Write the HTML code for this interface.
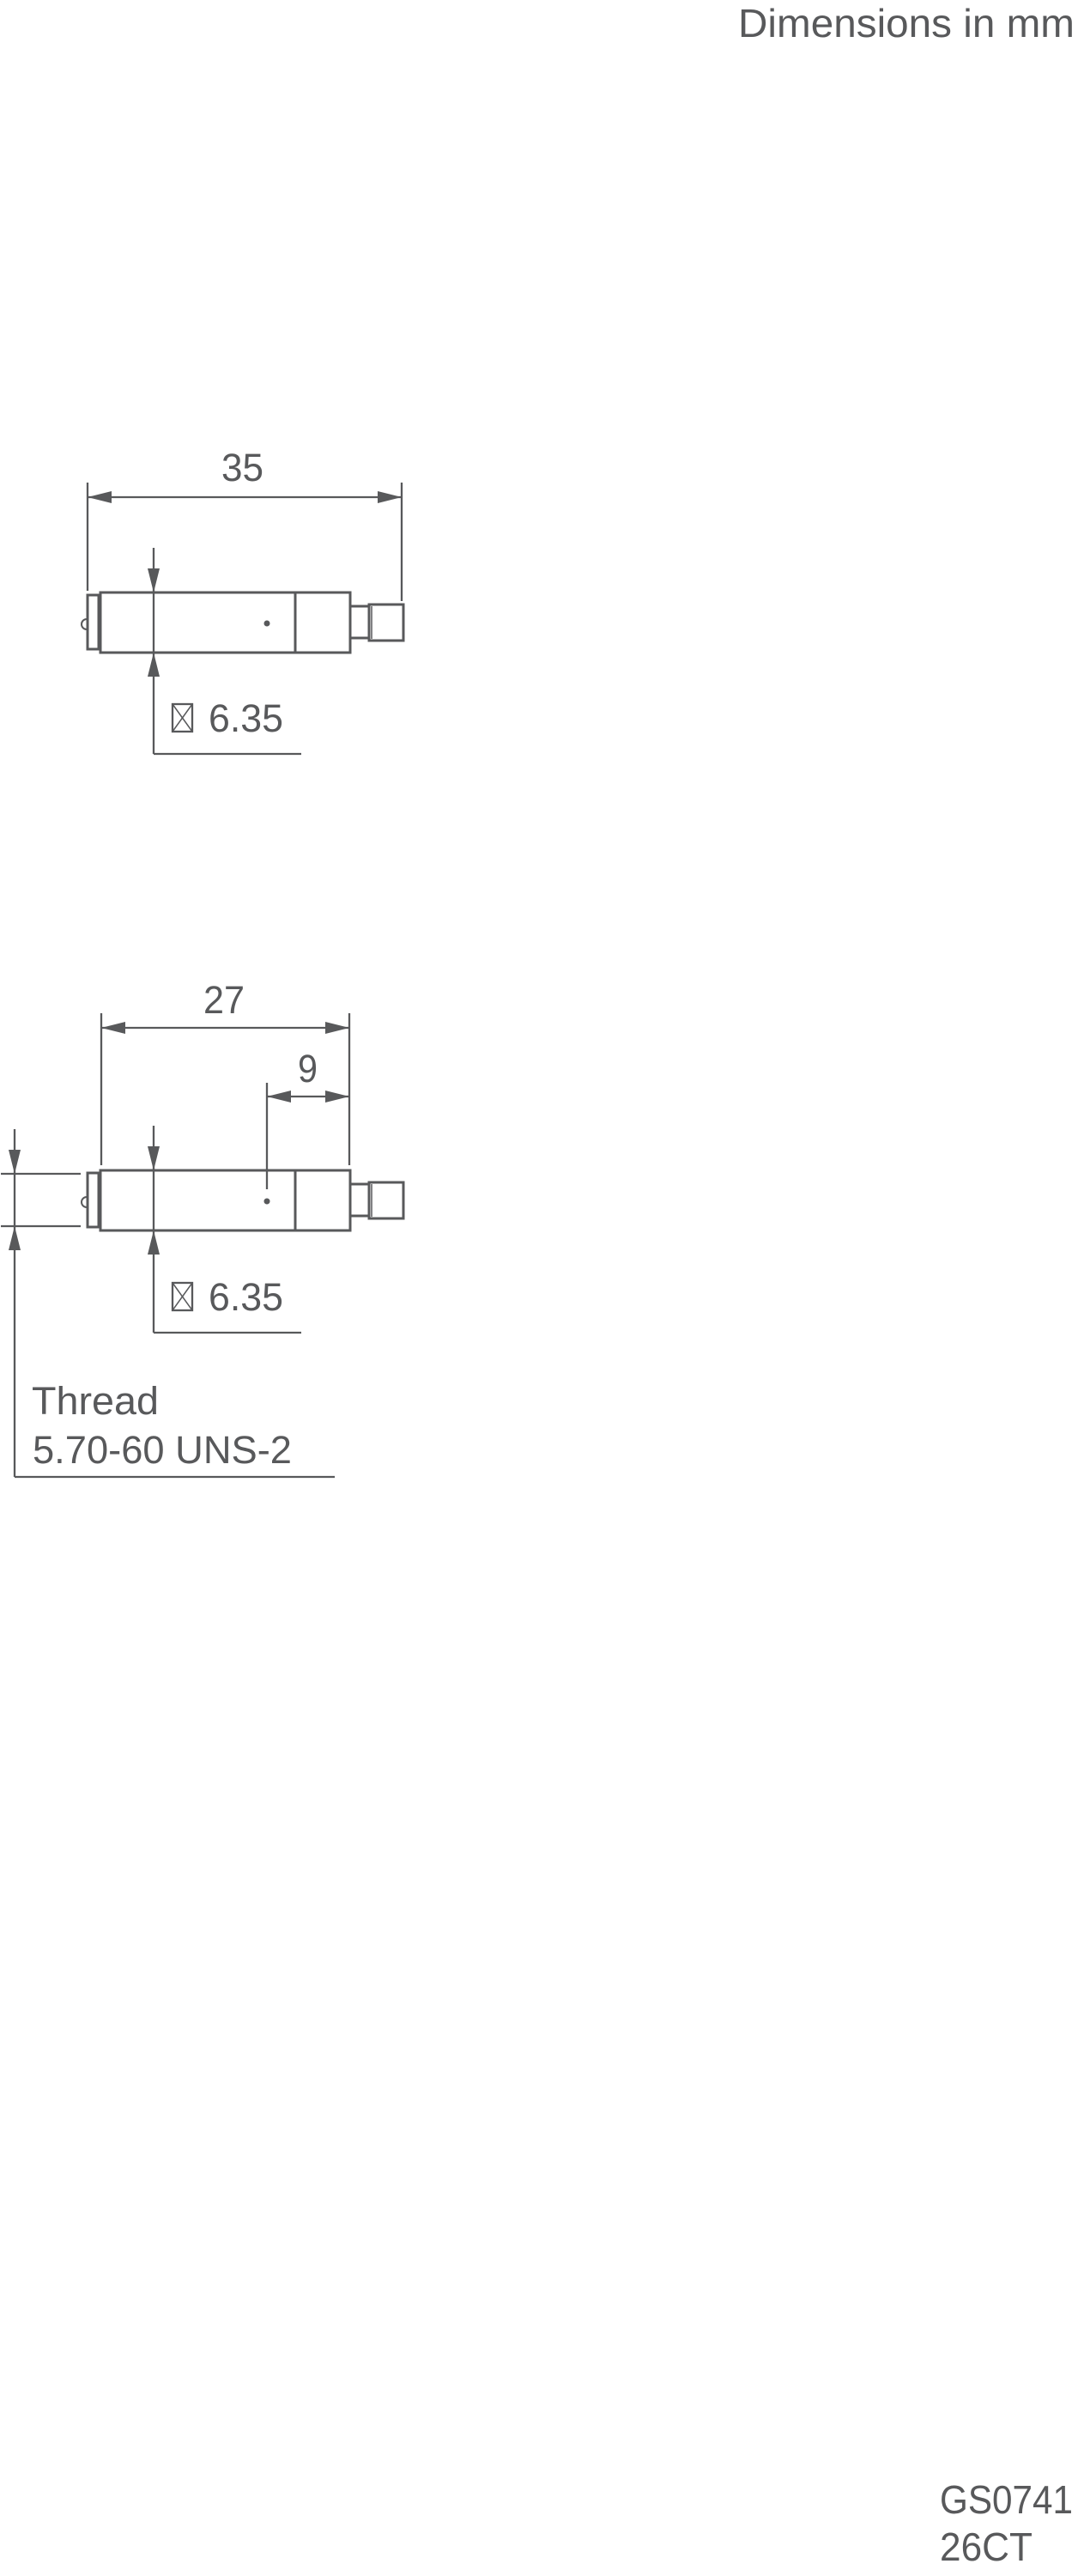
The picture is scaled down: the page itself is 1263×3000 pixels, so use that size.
<!DOCTYPE html>
<html><head><meta charset="utf-8"><style>
html,body{margin:0;padding:0;background:#fff;}
svg{display:block;}
text{font-family:"Liberation Sans",sans-serif;fill:#58595b;font-size:45px;}
</style></head><body>
<svg width="1263" height="3000" viewBox="0 0 1263 3000" xmlns="http://www.w3.org/2000/svg">
<defs>
<g id="part" stroke="#58595b" fill="none" stroke-width="3">
  <rect x="102" y="693" width="13" height="63"/>
  <line x1="114.5" y1="695" x2="114.5" y2="754" stroke-width="1.5"/>
  <path d="M101 721 A6 6 0 0 0 101 733" stroke-width="2"/>
  <rect x="117" y="690" width="291" height="70"/>
  <line x1="344" y1="690" x2="344" y2="760"/>
  <rect x="408" y="706" width="22" height="37"/>
  <rect x="430" y="704" width="40" height="42"/>
  <line x1="433" y1="706" x2="433" y2="744" stroke-width="1.5"/>
  <circle cx="311" cy="726" r="3.5" fill="#58595b" stroke="none"/>
</g>
</defs>

<text x="860" y="43" textLength="392" lengthAdjust="spacingAndGlyphs" style="font-size:46px">Dimensions in mm</text>

<!-- Drawing 1 -->
<use href="#part"/>
<g stroke="#58595b" stroke-width="2.3" fill="none">
  <line x1="102" y1="562" x2="102" y2="688"/>
  <line x1="468" y1="562" x2="468" y2="700"/>
  <line x1="102" y1="579" x2="468" y2="579"/>
  <line x1="179" y1="638" x2="179" y2="878"/>
  <line x1="179" y1="878" x2="351" y2="878"/>
  <rect x="201" y="820" width="23" height="32"/>
  <line x1="201" y1="820" x2="224" y2="852" stroke-width="1.5"/>
  <line x1="224" y1="820" x2="201" y2="852" stroke-width="1.5"/>
</g>
<g fill="#58595b">
  <polygon points="102,579 130,572 130,586"/>
  <polygon points="468,579 440,572 440,586"/>
  <polygon points="179,690 172,662 186,662"/>
  <polygon points="179,760 172,788 186,788"/>
</g>
<text x="258" y="560" textLength="49" lengthAdjust="spacingAndGlyphs">35</text>
<text x="243" y="852" textLength="87" lengthAdjust="spacingAndGlyphs">6.35</text>

<!-- Drawing 2 -->
<use href="#part" transform="translate(0,673)"/>
<g stroke="#58595b" stroke-width="2.3" fill="none">
  <line x1="118" y1="1180" x2="118" y2="1357"/>
  <line x1="407" y1="1180" x2="407" y2="1357"/>
  <line x1="118" y1="1197" x2="407" y2="1197"/>
  <line x1="311" y1="1261" x2="311" y2="1385"/>
  <line x1="311" y1="1277" x2="407" y2="1277"/>
  <line x1="179" y1="1311" x2="179" y2="1552"/>
  <line x1="179" y1="1552" x2="351" y2="1552"/>
  <rect x="201" y="1494" width="23" height="32"/>
  <line x1="201" y1="1494" x2="224" y2="1526" stroke-width="1.5"/>
  <line x1="224" y1="1494" x2="201" y2="1526" stroke-width="1.5"/>
  <line x1="1" y1="1367" x2="94" y2="1367"/>
  <line x1="1" y1="1428" x2="94" y2="1428"/>
  <line x1="17" y1="1315" x2="17" y2="1720"/>
  <line x1="17" y1="1720" x2="390" y2="1720"/>
</g>
<g fill="#58595b">
  <polygon points="118,1197 146,1190 146,1204"/>
  <polygon points="407,1197 379,1190 379,1204"/>
  <polygon points="311,1277 339,1270 339,1284"/>
  <polygon points="407,1277 379,1270 379,1284"/>
  <polygon points="179,1363 172,1335 186,1335"/>
  <polygon points="179,1433 172,1461 186,1461"/>
  <polygon points="17,1367 10,1339 24,1339"/>
  <polygon points="17,1428 10,1456 24,1456"/>
</g>
<text x="237" y="1180" textLength="48" lengthAdjust="spacingAndGlyphs">27</text>
<text x="347" y="1260" textLength="23" lengthAdjust="spacingAndGlyphs">9</text>
<text x="243" y="1526" textLength="87" lengthAdjust="spacingAndGlyphs">6.35</text>
<text x="37" y="1647" textLength="148" lengthAdjust="spacingAndGlyphs">Thread</text>
<text x="38" y="1704" textLength="302" lengthAdjust="spacingAndGlyphs">5.70-60 UNS-2</text>

<text x="1095" y="2927" textLength="155" lengthAdjust="spacingAndGlyphs" style="font-size:46px">GS0741</text>
<text x="1095" y="2982" textLength="108" lengthAdjust="spacingAndGlyphs" style="font-size:46px">26CT</text>
</svg>
</body></html>
